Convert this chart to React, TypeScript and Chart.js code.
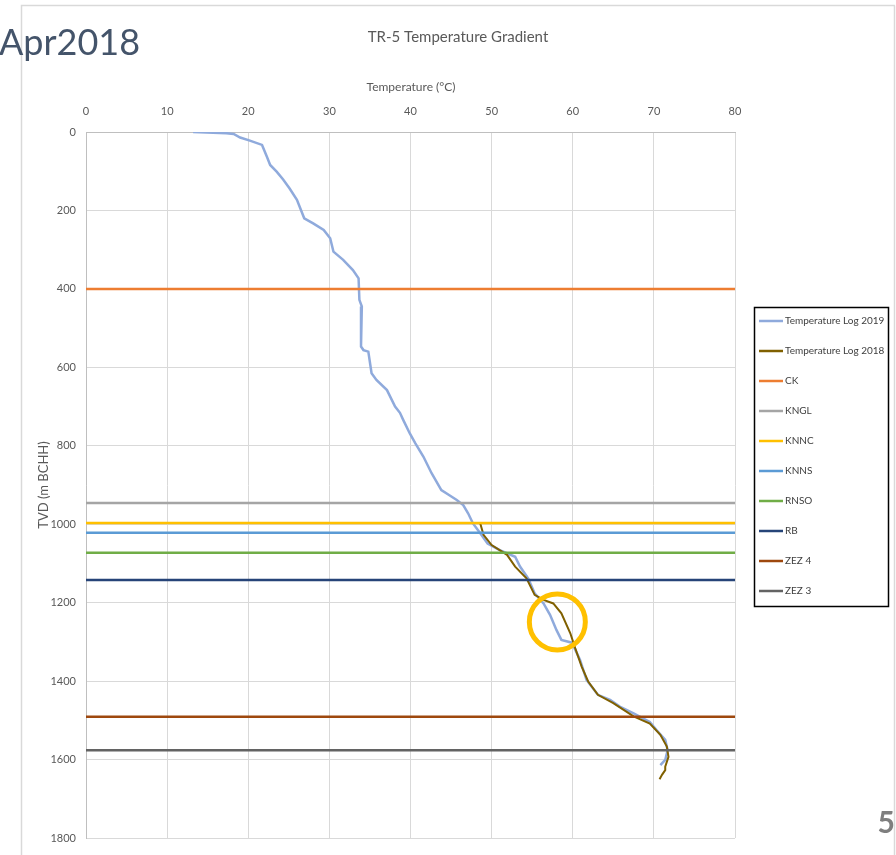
import React, { useEffect, useRef } from "react";
import { Chart, registerables } from "chart.js";

Chart.register(...registerables);

// ---- data ----
const log2019Temp = [
  13.2, 17.3, 18.2, 19.0, 20.2, 21.7, 22.3, 22.7, 23.5, 24.3, 25.1, 26.0, 26.9, 28.0, 29.3, 30.1,
  30.5, 31.7, 32.9, 33.6, 33.7, 34.0, 33.9, 33.9, 34.2, 34.8, 35.2, 35.8, 37.1, 38.1, 38.7, 39.1,
  39.9, 40.6, 41.6, 42.6, 43.8, 44.7, 45.7, 46.5, 47.1, 47.7, 48.6, 49.5, 51.0, 52.9, 53.5, 54.5,
  55.3, 56.4, 57.2, 58.0, 58.6, 59.9, 60.9, 61.7, 63.1, 64.6, 65.8, 67.5, 69.5, 70.3, 71.4, 71.7,
  71.4, 70.8,
];
const log2019Depth = [
  0, 3, 5, 14, 22, 33, 63, 84, 101, 121, 144, 173, 220, 233, 250, 271,
  305, 326, 352, 373, 428, 445, 479, 547, 556, 560, 615, 632, 658, 700, 716, 734,
  768, 794, 828, 870, 913, 925, 938, 951, 972, 998, 1023, 1049, 1066, 1083, 1108, 1138,
  1176, 1202, 1231, 1270, 1295, 1302, 1346, 1397, 1435, 1448, 1465, 1482, 1504, 1524, 1550, 1576,
  1601, 1614,
];
const log2018Temp = [
  48.6, 49.0, 50.0, 51.9, 52.9, 54.3, 55.3, 56.4, 57.6, 58.6, 59.7, 60.3, 61.1, 61.9, 63.1, 65.0,
  67.5, 69.5, 70.8, 71.6, 71.8, 71.4, 71.4, 71.0, 70.7,
];
const log2018Depth = [
  998, 1027, 1053, 1078, 1108, 1138, 1180, 1193, 1202, 1227, 1278, 1316, 1363, 1401, 1435, 1456,
  1490, 1508, 1537, 1567, 1593, 1618, 1627, 1639, 1650,
];
const formationNames = ["CK", "KNGL", "KNNC", "KNNS", "RNSO", "RB", "ZEZ 4", "ZEZ 3"];
const formationDepths = [400, 946, 997, 1022, 1073, 1142, 1491, 1576];
const formationColors = ["#ED7D31", "#A5A5A5", "#FFC000", "#5B9BD5", "#70AD47", "#264478", "#9E480E", "#636363"];
const tempRange = [0, 80];
const depthRange = [0, 1800];
const highlightPoint = { temp: 58.1, depth: 1249 };

const FONT = "Lato, 'Open Sans', sans-serif";

const overlayPlugin = {
  id: "overlay",
  beforeDraw(chart: any) {
    const ctx = chart.ctx;
    ctx.save();
    ctx.fillStyle = "#ffffff";
    ctx.fillRect(0, 0, chart.width, chart.height);
    // slide frame
    ctx.strokeStyle = "#D9D9D9";
    ctx.lineWidth = 1.5;
    ctx.beginPath();
    ctx.moveTo(21.5, 855);
    ctx.lineTo(21.5, 5.5);
    ctx.lineTo(895, 5.5);
    ctx.moveTo(894.5, 5.5);
    ctx.lineTo(894.5, 855);
    ctx.stroke();
    // titles
    ctx.fillStyle = "#595959";
    ctx.textAlign = "center";
    ctx.textBaseline = "middle";
    ctx.font = `15px ${FONT}`;
    ctx.fillText("TR-5 Temperature Gradient", 458, 37);
    ctx.font = `12px ${FONT}`;
    ctx.fillText("Temperature (°C)", 411, 87);
    ctx.save();
    ctx.translate(44, 485);
    ctx.rotate(-Math.PI / 2);
    ctx.font = `13px ${FONT}`;
    ctx.fillText("TVD (m BCHH)", 0, 0);
    ctx.restore();
    ctx.restore();
  },
  afterDatasetsDraw(chart: any) {
    const ctx = chart.ctx;
    const xs = chart.scales.x;
    const ys = chart.scales.y;
    ctx.save();
    ctx.strokeStyle = "#FFC000";
    ctx.lineWidth = 5;
    ctx.beginPath();
    ctx.arc(xs.getPixelForValue(highlightPoint.temp), ys.getPixelForValue(highlightPoint.depth), 28, 0, Math.PI * 2);
    ctx.stroke();
    ctx.restore();
  },
  afterDraw(chart: any) {
    const ctx = chart.ctx;
    ctx.save();
    // legend box
    ctx.strokeStyle = "#000000";
    ctx.lineWidth = 1.5;
    ctx.strokeRect(754.5, 307.5, 134, 299);
    ctx.font = `10px ${FONT}`;
    ctx.textAlign = "left";
    ctx.textBaseline = "middle";
    chart.data.datasets.forEach((ds: any, i: number) => {
      const y = 321 + i * 30;
      ctx.strokeStyle = ds.borderColor;
      ctx.lineWidth = 2.5;
      ctx.beginPath();
      ctx.moveTo(759, y);
      ctx.lineTo(783, y);
      ctx.stroke();
      ctx.fillStyle = "#404040";
      ctx.fillText(ds.label, 785, y);
    });
    // slide label and number
    ctx.fillStyle = "#44546A";
    ctx.font = `36px ${FONT}`;
    ctx.textAlign = "left";
    ctx.textBaseline = "alphabetic";
    ctx.fillText("Apr2018", -1, 55);
    ctx.fillStyle = "#7F7F7F";
    ctx.font = `bold 30px ${FONT}`;
    ctx.textAlign = "right";
    ctx.fillText("5", 895, 833);
    ctx.restore();
  },
};

export default function App() {
  const ref = useRef<HTMLCanvasElement | null>(null);
  useEffect(() => {
    if (!ref.current) return;
    const datasets: any[] = [
      {
        label: "Temperature Log 2019",
        data: log2019Temp.map((t, i) => ({ x: t, y: log2019Depth[i] })),
        borderColor: "#8FAADC",
        borderWidth: 2.5,
        order: 3,
      },
      {
        label: "Temperature Log 2018",
        data: log2018Temp.map((t, i) => ({ x: t, y: log2018Depth[i] })),
        borderColor: "#806000",
        borderWidth: 2,
        order: 2,
      },
      ...formationNames.map((name, i) => ({
        label: name,
        data: [
          { x: tempRange[0], y: formationDepths[i] },
          { x: tempRange[1], y: formationDepths[i] },
        ],
        borderColor: formationColors[i],
        borderWidth: 2.5,
        order: 1,
      })),
    ];
    datasets.forEach((d) => {
      d.showLine = true;
      d.pointRadius = 0;
      d.tension = 0;
      d.fill = false;
      d.backgroundColor = d.borderColor;
    });
    const chart = new Chart(ref.current, {
      type: "scatter",
      data: { datasets },
      options: {
        responsive: false,
        animation: false,
        devicePixelRatio: 1,
        layout: { padding: { left: 0, top: 0, right: 161, bottom: 17 } },
        plugins: { legend: { display: false }, tooltip: { enabled: false } },
        font: { family: FONT },
        scales: {
          x: {
            type: "linear",
            position: "top",
            min: tempRange[0],
            max: tempRange[1],
            afterFit: (s: any) => {
              s.height = 132;
            },
            ticks: {
              stepSize: 10,
              color: "#595959",
              font: { family: FONT, size: 11 },
              padding: 14,
              callback: (v: any) => String(v),
            },
            grid: { color: "#D9D9D9", lineWidth: 1, drawTicks: false },
            border: { display: true, color: "#BFBFBF" },
          },
          y: {
            type: "linear",
            reverse: true,
            min: depthRange[0],
            max: depthRange[1],
            afterFit: (s: any) => {
              s.width = 86;
            },
            ticks: {
              stepSize: 200,
              color: "#595959",
              font: { family: FONT, size: 11 },
              padding: 10,
              callback: (v: any) => String(v),
            },
            grid: { color: "#D9D9D9", lineWidth: 1, drawTicks: false },
            border: { display: true, color: "#BFBFBF" },
          },
        },
      } as any,
      plugins: [overlayPlugin],
    });
    return () => chart.destroy();
  }, []);
  return (
    <div style={{ position: "absolute", left: 0, top: 0, width: 896, height: 855, background: "#fff" }}>
      <canvas ref={ref} width={896} height={855} style={{ width: 896, height: 855, display: "block" }} />
    </div>
  );
}
